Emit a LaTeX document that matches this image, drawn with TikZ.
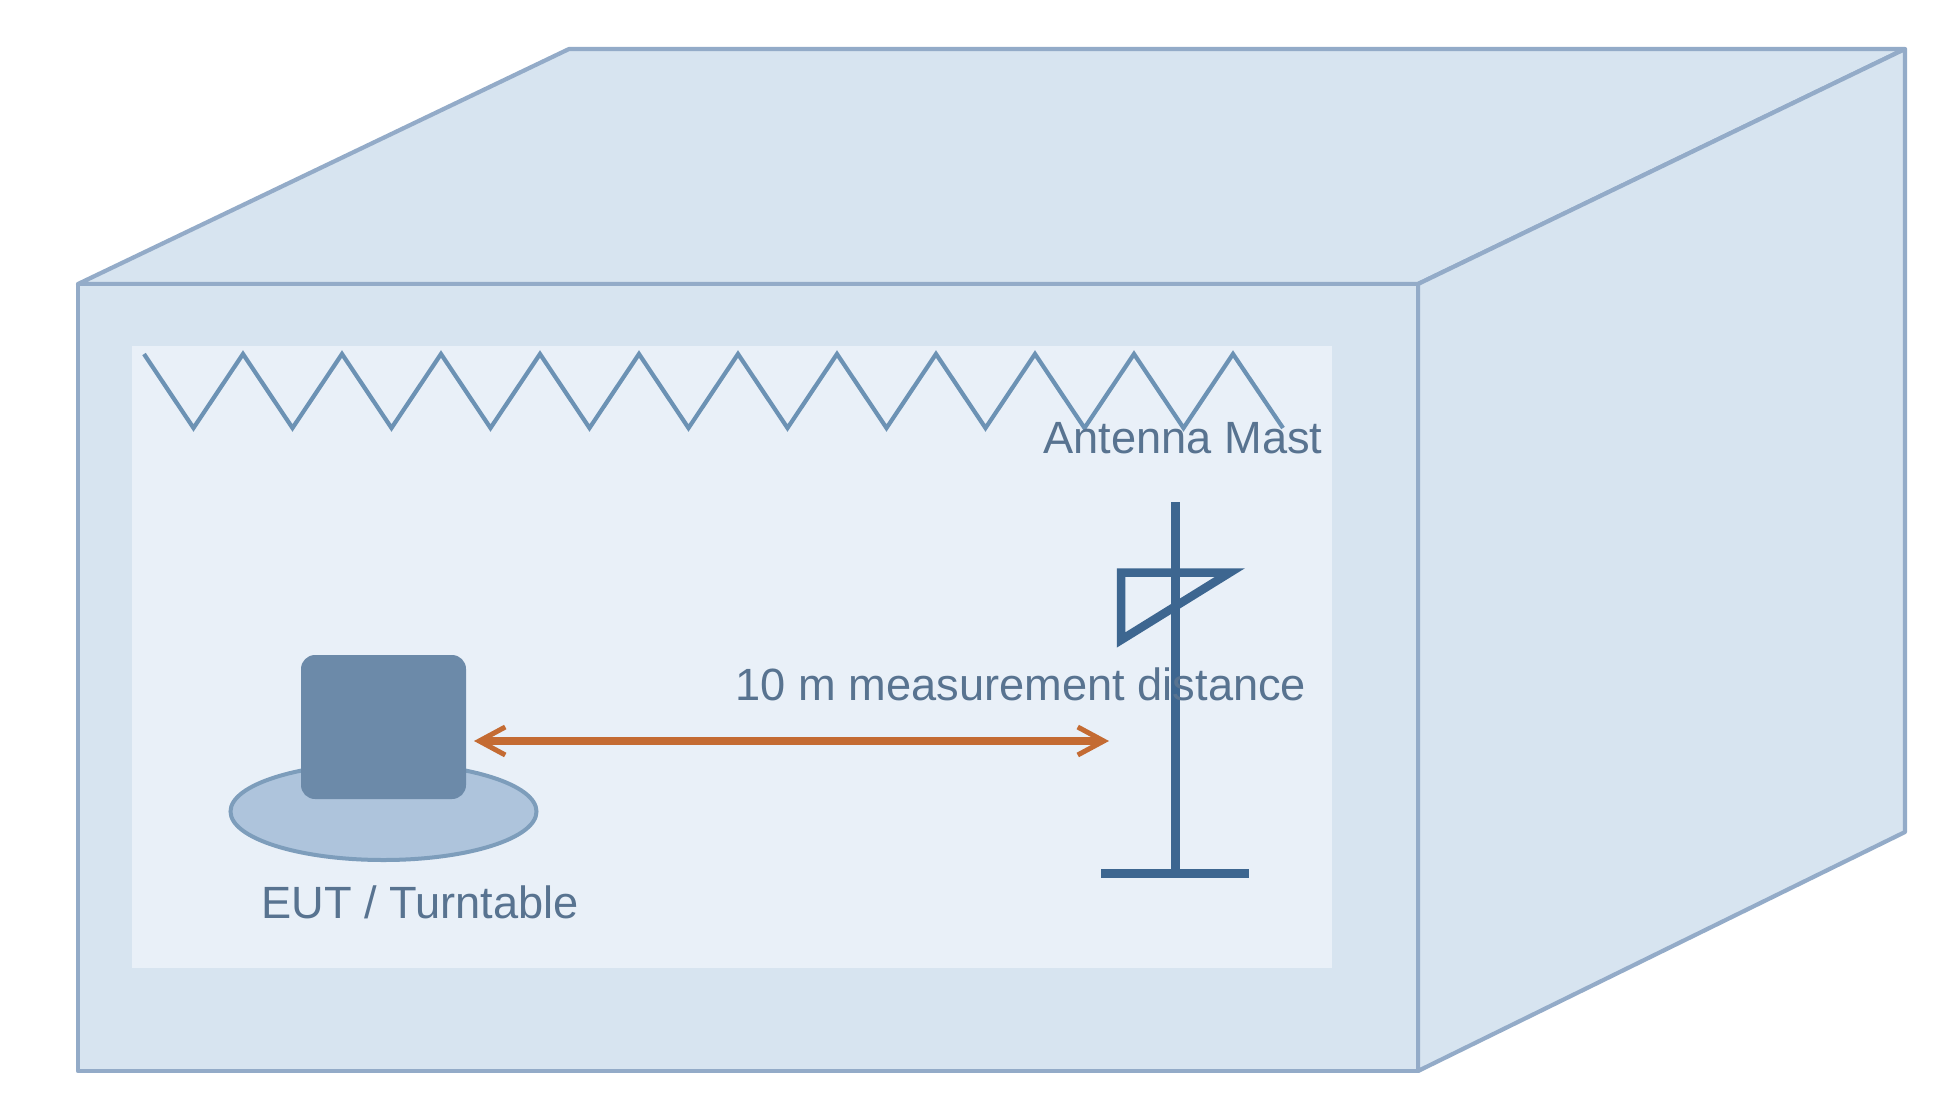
\documentclass[tikz,border=0pt]{standalone}
\usepackage{fontspec}
\setmainfont{Liberation Sans}
\usetikzlibrary{arrows.meta,shapes.geometric}
\definecolor{boxfill}{HTML}{D7E4F0}
\definecolor{boxline}{HTML}{93ABC8}
\definecolor{innerfill}{HTML}{E9F0F8}
\definecolor{zigline}{HTML}{6C92B4}
\definecolor{mastline}{HTML}{3D6690}
\definecolor{arrowline}{HTML}{C46B33}
\definecolor{eutfill}{HTML}{6C8AA9}
\definecolor{tablefill}{HTML}{AEC4DC}
\definecolor{tableline}{HTML}{7D9DBB}
\definecolor{labeltext}{HTML}{587390}
\tikzset{
  face/.style={fill=boxfill,draw=boxline,line width=4.2pt,line join=round},
  label text/.style={text=labeltext,font=\fontsize{45.2}{50}\selectfont,inner sep=0pt,anchor=base},
  mast part/.style={draw=mastline,line width=9pt},
  barb/.tip={Straight Barb[length=26pt,width=28pt,line width=5pt]},
}
\begin{document}
\begin{tikzpicture}[x=1pt,y=-1pt]
\useasboundingbox (0,0) rectangle (1944,1098);
\fill[white] (0,0) rectangle (1944,1098);
% chamber
\coordinate (fl) at (78,1071);
\coordinate (ftl) at (78,284);
\coordinate (ftr) at (1418,284);
\coordinate (fbr) at (1418,1071);
\coordinate (btl) at (569,49);
\coordinate (btr) at (1905,49);
\coordinate (bbr) at (1905,832);
\draw[face] (ftl) -- (btl) -- (btr) -- (ftr) -- cycle;
\draw[face] (ftr) -- (btr) -- (bbr) -- (fbr) -- cycle;
\draw[face] (fl) rectangle (ftr);
\fill[innerfill] (132,346) rectangle (1332,968);
% absorbers
\draw[zigline,line width=4.2pt,line join=miter]
  (144,354) -- (193.5,428) -- (243,354) -- (292.5,428) -- (342,354) -- (391.5,428)
  -- (441,354) -- (490.5,428) -- (540,354) -- (589.5,428) -- (639,354) -- (688.5,428)
  -- (738,354) -- (787.5,428) -- (837,354) -- (886.5,428) -- (936,354) -- (985.5,428)
  -- (1035,354) -- (1084.5,428) -- (1134,354) -- (1183.5,428) -- (1233,354) -- (1283,428);
% turntable and EUT
\node[ellipse,draw=tableline,fill=tablefill,line width=4pt,inner sep=0pt,
      minimum width=306pt,minimum height=97pt] (table) at (383.5,811.5) {};
\node[rectangle,rounded corners=14pt,fill=eutfill,inner sep=0pt,
      minimum width=165pt,minimum height=144pt] (eut) at (383.5,727) {};
% mast
\coordinate (masttop) at (1175,502);
\coordinate (mastfoot) at (1175,873);
\coordinate (baseL) at (1101,873);
\coordinate (baseR) at (1249,873);
\draw[mast part] (masttop) -- (mastfoot);
\draw[mast part] (baseL) -- (baseR);
\draw[mastline,line width=8.5pt,line join=miter,miter limit=10]
  (1121,572.5) -- (1230,572.5) -- (1121,640) -- cycle;
% distance arrow
\coordinate (arrL) at (474,741);
\coordinate (arrR) at (1109,741);
\draw[arrowline,line width=8pt,{barb}-{barb}] (arrL) -- (arrR);
% labels
\node[label text] (ant) at (1183,453) {Antenna Mast};
\node[label text] (dist) at (1021,700) {10 m measurement distance};
\node[label text] (eutl) at (420,918) {EUT / Turntable};
\end{tikzpicture}
\end{document}
